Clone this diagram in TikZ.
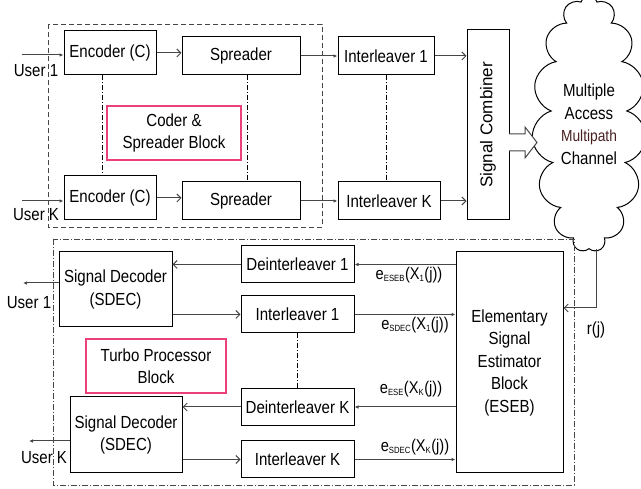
\documentclass[tikz,border=0pt]{standalone}
\usepackage{fontspec}
\setmainfont{Liberation Sans}[FakeStretch=0.86]
\newfontfamily\plainsf{Liberation Sans}
\usetikzlibrary{arrows.meta,shapes.symbols}
\definecolor{pinkbox}{RGB}{236,64,122}
\definecolor{lnc}{RGB}{70,70,70}
\definecolor{mpath}{RGB}{70,30,30}
\begin{document}
\begin{tikzpicture}[x=1pt,y=-1pt,
  font=\fontsize{17.5}{22.5}\selectfont,
  blk/.style={draw,line width=1pt,inner sep=0pt,align=center},
  tag/.style={draw=pinkbox,line width=1.1pt,inner sep=0pt,align=center},
  lbl/.style={inner sep=0pt,font=\fontsize{17}{18}\selectfont},
  fil/.style={draw=lnc,line width=1pt,-{Latex[length=4pt,width=3.5pt]}},
  opn/.style={draw=lnc,line width=1pt,-{Straight Barb[length=4pt,width=8pt]}},
  ddot/.style={line width=0.7pt,dash pattern=on 5pt off 2pt on 1pt off 2pt}]
\useasboundingbox (0,0) rectangle (641,489);
\newcommand{\sub}[1]{\textsubscript{\fontsize{9}{9}\selectfont #1}}
% transmitter
\draw[lnc,line width=0.9pt,dash pattern=on 5pt off 3pt] (48,24) rectangle (322,227);
\node[blk,minimum width=92,minimum height=44] (enc1) at (110,53) {Encoder (C)};
\node[blk,minimum width=118,minimum height=38] (spr1) at (241,56) {Spreader};
\node[blk,minimum width=92,minimum height=44] (encK) at (110,198) {Encoder (C)};
\node[blk,minimum width=118,minimum height=38] (sprK) at (241,201) {Spreader};
\node[tag,minimum width=134,minimum height=54] (csb) at (174,133) {Coder \&\\Spreader Block};
\node[blk,minimum width=96,minimum height=38] (int1) at (386,56) {Interleaver 1};
\node[blk,minimum width=102,minimum height=38] (intK) at (389,201) {Interleaver K};
\node[blk,minimum width=42,minimum height=190] (comb) at (488,125) {};
\node[rotate=90,inner sep=0pt,font=\plainsf\fontsize{17}{20}\selectfont] at (comb.center) {Signal Combiner};
\node[cloud,draw,line width=1pt,cloud puffs=15,cloud ignores aspect,minimum width=114,minimum height=256,inner sep=0pt,align=center,text=black] (cloud) at (589,124)
  {Multiple\\Access\\\textcolor{mpath}{\fontsize{16}{21}\selectfont Multipath}\\Channel};
\coordinate (u1) at (22,55);
\coordinate (uK) at (22,201);
\node[inner sep=0pt] (usr1) at (36,71) {User 1};
\node[inner sep=0pt] (usrK) at (36,215) {User K};
\draw[fil] (u1) -- (u1 -| enc1.west);
\draw[fil] (uK) -- (uK -| encK.west);
\draw[opn] (enc1.east) -- (enc1.east -| spr1.west);
\draw[opn] (encK.east) -- (encK.east -| sprK.west);
\draw[fil] (spr1.east) -- (spr1.east -| int1.west);
\draw[fil] (sprK.east) -- (sprK.east -| intK.west);
\draw[opn] (int1.east) -- (int1.east -| comb.west);
\draw[opn] (intK.east) -- (intK.east -| comb.west);
\draw[ddot] ([xshift=-8]enc1.south) -- ([xshift=-8]enc1.south |- encK.north);
\draw[ddot] ([xshift=6]spr1.south) -- ([xshift=6]spr1.south |- sprK.north);
\draw[ddot] (int1.south) -- (int1.south |- intK.north);
\draw[lnc,line width=1pt,fill=white,line join=miter] (509,134) -- (525,134) -- (525,127) -- (537,142.5) -- (525,158) -- (525,151) -- (509,151);
% receiver
\draw[lnc,line width=0.9pt,dash pattern=on 6pt off 2pt on 1pt off 2pt] (53,239) rectangle (574,485);
\node[blk,minimum width=113,minimum height=75] (dec1) at (115.5,289.5) {Signal Decoder\\(SDEC)};
\node[blk,minimum width=113,minimum height=37] (deint1) at (297.5,264.5) {Deinterleaver 1};
\node[blk,minimum width=113,minimum height=37] (int1b) at (297.5,314.5) {Interleaver 1};
\node[tag,minimum width=140,minimum height=54] (tpb) at (156,366) {Turbo Processor\\Block};
\node[blk,minimum width=112,minimum height=76] (decK) at (126,435) {Signal Decoder\\(SDEC)};
\node[blk,minimum width=113,minimum height=37] (deintK) at (297.5,407) {Deinterleaver K};
\node[blk,minimum width=113,minimum height=37] (intKb) at (297.5,459.5) {Interleaver K};
\node[blk,minimum width=107,minimum height=221] (eseb) at (509.5,362.5) {Elementary\\Signal\\Estimator\\Block\\(ESEB)};
\coordinate (o1) at (23,283);
\coordinate (oK) at (29,441);
\node[inner sep=0pt] (out1) at (29,303) {User 1};
\node[inner sep=0pt] (outK) at (44,458) {User K};
\draw[fil] (dec1.west |- o1) -- (o1);
\draw[fil] (decK.west |- oK) -- (oK);
\draw[opn] (deint1.west) -- (deint1.west -| dec1.east);
\draw[opn] (int1b.west -| dec1.east) -- (int1b.west);
\draw[opn] (deintK.west) -- (deintK.west -| decK.east);
\draw[opn] (intKb.west -| decK.east) -- (intKb.west);
\draw[fil] (deint1.east -| eseb.west) -- (deint1.east);
\draw[fil] (int1b.east) -- (int1b.east -| eseb.west);
\draw[fil] (deintK.east -| eseb.west) -- (deintK.east);
\draw[fil] (intKb.east) -- (intKb.east -| eseb.west);
\draw[ddot] (int1b.south) -- (int1b.south |- deintK.north);
\node[lbl] (l1) at (409,275) {e\sub{ESEB}(X\sub{1}(j))};
\node[lbl] (l2) at (415,325) {e\sub{SDEC}(X\sub{1}(j))};
\node[lbl] (l3) at (411,389) {e\sub{ESE}(X\sub{K}(j))};
\node[lbl] (l4) at (415,447) {e\sub{SDEC}(X\sub{K}(j))};
\coordinate (rjc) at (596,308);
\draw[opn] (cloud.south -| rjc) -- (rjc) -- (rjc -| eseb.east);
\node[inner sep=0pt] (rj) at (596,330) {r(j)};
\end{tikzpicture}
\end{document}
